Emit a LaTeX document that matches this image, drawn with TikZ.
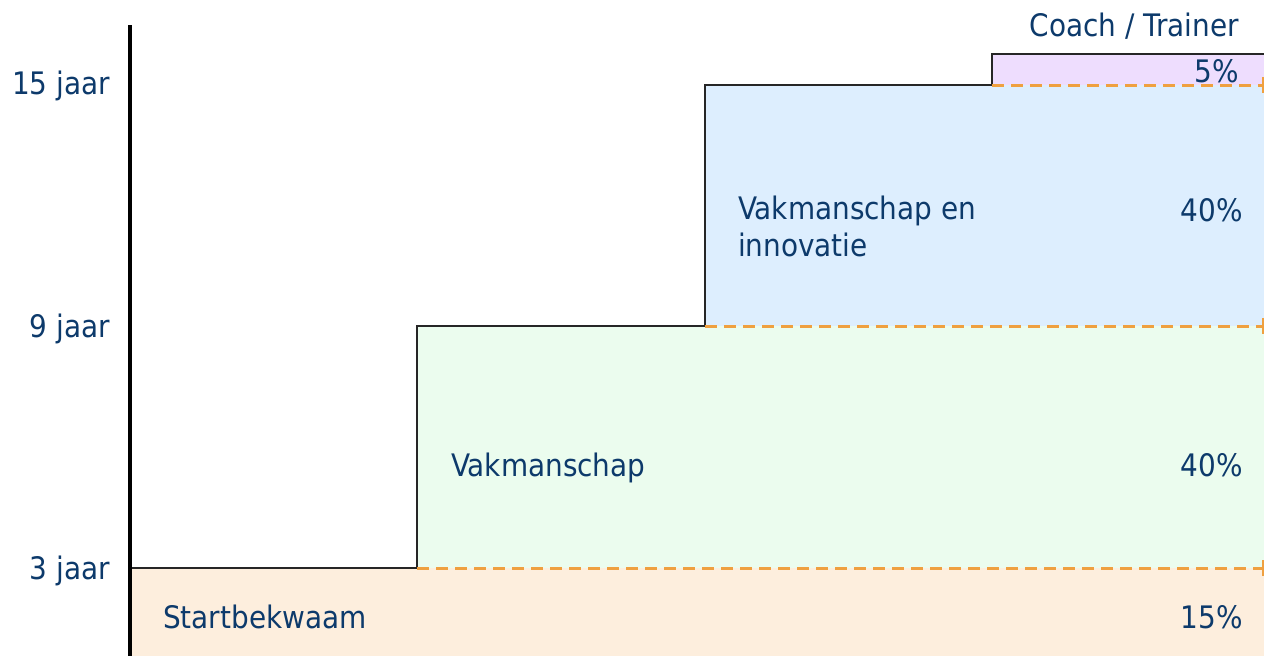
\documentclass[tikz,border=0pt]{standalone}
\usepackage{fontspec}
\setmainfont{DejaVu Sans Condensed}
\definecolor{txt}{HTML}{0D3A6B}
\definecolor{peach}{HTML}{FDEEDD}
\definecolor{mint}{HTML}{EBFCEE}
\definecolor{sky}{HTML}{DDEEFE}
\definecolor{lilac}{HTML}{EEDDFE}
\definecolor{dashor}{HTML}{EFA040}
\tikzset{
  lbl/.style={inner sep=0pt, text=txt, font=\fontsize{31}{38}\selectfont},
  edge/.style={line width=2.8pt, black!85},
  sep/.style={line width=3pt, dashor, dash pattern=on 12pt off 7pt},
  tick/.style={line width=2.5pt, dashor},
}
\begin{document}
\begin{tikzpicture}[x=1pt,y=-1pt]
\useasboundingbox (0,0) rectangle (1264,656);
% regions
\fill[peach] (130,568) rectangle (1264,656);
\fill[mint] (417,326) rectangle (1264,568);
\fill[sky] (705,85) rectangle (1264,326);
\fill[lilac] (992,54) rectangle (1264,85);
% step outline
\draw[edge] (130,568) -- (417,568) -- (417,326) -- (705,326) -- (705,85) -- (992,85) -- (992,54) -- (1264,54);
% dashed separators
\draw[sep] (417,568) -- (1264,568);
\draw[sep] (705,326) -- (1264,326);
\draw[sep] (992,85) -- (1264,85);
% right-edge ticks
\draw[tick] (1263.5,560) -- (1263.5,576);
\draw[tick] (1263.5,318) -- (1263.5,334);
\draw[tick] (1263.5,77) -- (1263.5,93);
% axis
\coordinate (axtop) at (130,25);
\coordinate (axbot) at (130,656);
\draw[line width=3.4pt, black] (axtop) -- (axbot);
% axis labels
\node[lbl, anchor=base east] (y15) at (110,94) {15 jaar};
\node[lbl, anchor=base east] (y9) at (110,337) {9 jaar};
\node[lbl, anchor=base east] (y3) at (110,579) {3 jaar};
% region labels
\node[lbl, anchor=base west] (start) at (163,628) {Startbekwaam};
\node[lbl, anchor=base west] (vak) at (451,476) {Vakmanschap};
\node[lbl, anchor=base west] (vak1) at (738,219) {Vakmanschap en};
\node[lbl, anchor=base west] (vak2) at (738,256) {innovatie};
% percentages
\node[lbl, anchor=base east] (p15) at (1243,628) {15\%};
\node[lbl, anchor=base east] (p40a) at (1243,476) {40\%};
\node[lbl, anchor=base east] (p40b) at (1243,221) {40\%};
\node[lbl, anchor=base east] (p5) at (1239,82) {5\%};
\node[lbl, anchor=base east] (coach) at (1239,36) {Coach / Trainer};
\end{tikzpicture}
\end{document}
